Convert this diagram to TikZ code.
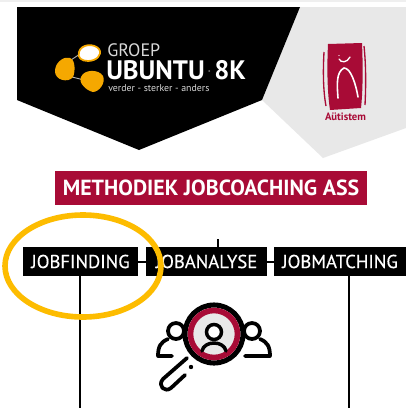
\documentclass[tikz,border=0pt]{standalone}
\usepackage{fontspec}
\setmainfont{PT Sans}
\definecolor{crim}{HTML}{A80B36}
\definecolor{gold}{HTML}{F5A800}
\definecolor{ring}{HTML}{FDBC00}
\definecolor{pale}{HTML}{E8E8E8}
\begin{document}
\begin{tikzpicture}[x=0.75pt,y=-0.75pt,
  jobbox/.style={fill=black,text=white,inner sep=0pt,minimum height=21.5pt,font=\fontsize{14}{14}\selectfont\addfontfeature{FakeBold=0.5}},
  link/.style={draw=black,line width=1.5pt},
  icon/.style={draw=black,line width=2.8pt,line cap=round,line join=round}]
\useasboundingbox (0,0) rectangle (406,408);
\fill[white] (0,0) rectangle (406,408);
\fill[pale!70] (0,0) rectangle (406,2);
% banners
\fill[pale] (300,7) -- (406,7) -- (406,128) -- (323,158) -- (262,100) -- cycle;
\fill[black] (17,7) -- (300,7) -- (262,100) -- (139,150) -- (17,100) -- cycle;
% logo blobs
\draw[white!70!black,line width=.7pt] (71,60) -- (80,54) (72,77) -- (84,80);
\draw[gold,line width=1.3pt,fill=white] (79,52) .. controls (81,44) and (94,43) .. (99,49) .. controls (103,55) and (96,61) .. (88,61) .. controls (82,61) and (77,58) .. (79,52) -- cycle;
\fill[gold] (55,70) .. controls (56,61) and (65,56) .. (70,58) .. controls (76,60) and (75,73) .. (73,77) .. controls (69,83) and (54,81) .. (55,70) -- cycle;
\fill[gold] (81,77) .. controls (84,69) and (99,69) .. (103,76) .. controls (106,83) and (99,92) .. (93,92) .. controls (87,91) and (78,83) .. (81,77) -- cycle;
\node[text=white!85!black,anchor=west,inner sep=0pt,font=\fontsize{13.5}{13.5}\selectfont] (groep) at (107,50) {GROEP};
\node[text=white,anchor=west,inner sep=0pt,font=\bfseries\fontsize{20}{20}\selectfont] (ubuntu) at (106,70) {UBUNTU};
\node[text=white!80!black,anchor=west,inner sep=0pt,font=\fontsize{3}{3}\selectfont] (x) at (208,71) {x};
\node[text=white,anchor=west,inner sep=0pt,font=\bfseries\fontsize{20}{20}\selectfont] (eightk) at (214,70) {8K};
\node[text=white!85!black,anchor=west,inner sep=0pt,font=\fontsize{7.4}{7.4}\selectfont] (tag) at (108,88) {verder - sterker - anders};
% autistem logo
\fill[crim] (328,44) -- (362,43) .. controls (363,65) and (363,90) .. (361,108) -- (330,110) .. controls (327,90) and (327,65) .. (328,44) -- cycle;
\draw[crim,line width=1pt] (324,52) .. controls (323,70) and (323,90) .. (326,106);
\draw[crim,line width=1pt] (364,46) .. controls (366,65) and (366,85) .. (365,105);
\draw[white,line width=1pt,line cap=round] (339,59) .. controls (341,63) and (347,63) .. (350,57);
\fill[white] (339,55.5) circle (.7);
\draw[white,line width=1.2pt,line cap=round] (338,98) .. controls (337,85) and (336,72) .. (344,68) .. controls (351,68) and (356,85) .. (358,97);
\node[text=crim,inner sep=0pt,font=\bfseries\fontsize{8}{8}\selectfont] (aut) at (345.5,117) {Aütistem};
% title
\node[fill=crim,text=white,inner sep=0pt,minimum width=234pt,minimum height=25.5pt,font=\bfseries\fontsize{16.4}{16.4}\selectfont] (title) at (211,188) {METHODIEK JOBCOACHING ASS};
% boxes
\node[jobbox,minimum width=86pt] (find) at (80.5,261.5) {JOBFINDING};
\node[jobbox,minimum width=91pt] (ana) at (206.5,261.5) {JOBANALYSE};
\node[jobbox,minimum width=99pt] (match) at (340,261.5) {JOBMATCHING};
\coordinate (tick) at (218,239);
\coordinate (e1) at (80,408);
\coordinate (e2) at (349,408);
\draw[link] (find) -- (ana);
\draw[link] (ana) -- (match);
\draw[link] (tick) -- (tick |- ana.north);
\draw[link] (e1 |- find.south) -- (e1);
\draw[link] (e2 |- match.south) -- (e2);
% highlight
\draw[ring,line width=4.2pt] (83,266) ellipse (78 and 51);
% icon
\draw[icon] (187,358) -- (163,379) .. controls (157,386) and (165,393) .. (171,388) -- (185,375);
\fill[black] (191,367) circle (2.2);
\draw[icon] (176,331) circle (8);
\draw[icon] (168,339) .. controls (161,342) and (158,346) .. (158,356) -- (172,356);
\draw[icon] (252,331) circle (8);
\draw[icon] (260,339) .. controls (267,342) and (270,346) .. (270,356) -- (245,356);
\fill[pale] (214,334) circle (21);
\draw[black,line width=3.8pt] (214,334) circle (29);
\draw[crim,line width=4.2pt] (214,334) circle (23.5);
\fill[white] (214,332) circle (7.5);
\draw[black,line width=2.6pt] (214,332) circle (7.5);
\draw[black,line width=2.6pt,line cap=round] (202,351) .. controls (203,346) and (208,343) .. (214,343) .. controls (220,343) and (225,346) .. (226,351);
\end{tikzpicture}
\end{document}
